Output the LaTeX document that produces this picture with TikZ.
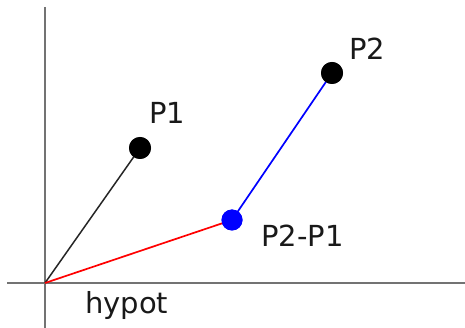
\documentclass[tikz,border=0pt]{standalone}
\usepackage{fontspec}
\setmainfont{DejaVu Sans}
\begin{document}
\begin{tikzpicture}[x=1pt,y=-1pt,
  axis/.style={draw=black!55,line width=2.2pt},
  dot/.style={circle,fill=black,inner sep=0pt,minimum size=22pt},
  bluedot/.style={circle,fill=blue,inner sep=0pt,minimum size=21pt},
  lbl/.style={anchor=base west,inner sep=0pt,font=\fontsize{29}{34}\selectfont,text=black!90}]
\useasboundingbox (0,0) rectangle (465,328);
\coordinate (ytop) at (45,7);
\coordinate (ybot) at (45,328);
\coordinate (xl) at (7,283);
\coordinate (xr) at (465,283);
\coordinate (O) at (45,283);
\draw[axis] (ytop) -- (ybot);
\draw[axis] (xl) -- (xr);
\node[dot] (P1) at (140,148) {};
\node[dot] (P2) at (332,73) {};
\node[bluedot] (D) at (232,220) {};
\draw[black!85,line width=1.5pt] (O) -- (P1.center);
\draw[red,line width=1.7pt] (O) -- (D.center);
\draw[blue,line width=1.7pt] (D.center) -- (P2.center);
\node[dot] at (P1) {};
\node[dot] at (P2) {};
\node[bluedot] at (D) {};
\node[lbl] (l1) at (149,124) {P1};
\node[lbl] (l2) at (349,60) {P2};
\node[lbl] (l3) at (261,247) {P2-P1};
\node[lbl] (l4) at (85,313) {hypot};
\end{tikzpicture}
\end{document}
